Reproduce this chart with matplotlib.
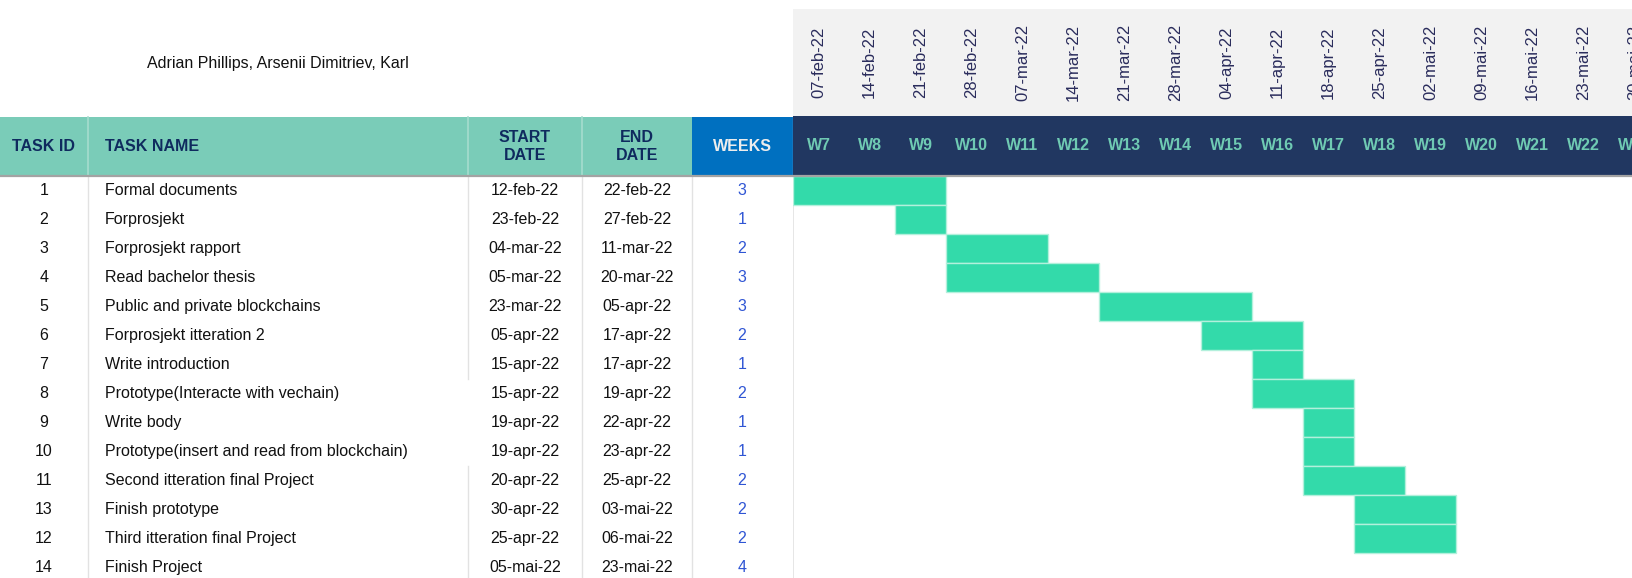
import matplotlib
matplotlib.use("Agg")
import matplotlib.pyplot as plt
from matplotlib.patches import Rectangle

plt.rcParams['font.family'] = ['Liberation Sans', 'DejaVu Sans']

# ---------------- data ----------------
author_line = "Adrian Phillips, Arsenii Dimitriev, Karl"
task_ids = [1, 2, 3, 4, 5, 6, 7, 8, 9, 10, 11, 13, 12, 14]
task_names = [
    "Formal documents",
    "Forprosjekt",
    "Forprosjekt rapport",
    "Read bachelor thesis",
    "Public and private blockchains",
    "Forprosjekt itteration 2",
    "Write introduction",
    "Prototype(Interacte with vechain)",
    "Write body",
    "Prototype(insert and read from blockchain)",
    "Second itteration final Project",
    "Finish prototype",
    "Third itteration final Project",
    "Finish Project",
]
start_dates = ["12-feb-22", "23-feb-22", "04-mar-22", "05-mar-22", "23-mar-22",
               "05-apr-22", "15-apr-22", "15-apr-22", "19-apr-22", "19-apr-22",
               "20-apr-22", "30-apr-22", "25-apr-22", "05-mai-22"]
end_dates = ["22-feb-22", "27-feb-22", "11-mar-22", "20-mar-22", "05-apr-22",
             "17-apr-22", "17-apr-22", "19-apr-22", "22-apr-22", "23-apr-22",
             "25-apr-22", "03-mai-22", "06-mai-22", "23-mai-22"]
weeks = [3, 1, 2, 3, 3, 2, 1, 2, 1, 1, 2, 2, 2, 4]
bar_start_week = [7, 9, 10, 10, 13, 15, 16, 16, 17, 17, 17, 18, 18, None]

week_numbers = [7, 8, 9, 10, 11, 12, 13, 14, 15, 16, 17, 18, 19, 20, 21, 22, 23]
week_dates = ["07-feb-22", "14-feb-22", "21-feb-22", "28-feb-22", "07-mar-22",
              "14-mar-22", "21-mar-22", "28-mar-22", "04-apr-22", "11-apr-22",
              "18-apr-22", "25-apr-22", "02-mai-22", "09-mai-22", "16-mai-22",
              "23-mai-22", "30-mai-22"]
header_labels = ["TASK ID", "TASK NAME", "START\nDATE", "END\nDATE", "WEEKS"]

# ---------------- layout ----------------
W, H = 1632, 578
ROW_PX = 29.0
ROW0_PX = 176.0          # pixel y of top of first body row
GANTT_X0 = 793.0         # pixel x where gantt starts
WEEK_PX = 51.0


def ry(pix):
    """pixel y -> row units"""
    return (pix - ROW0_PX) / ROW_PX


y_top = ry(0)
y_bot = ry(H)

# colours
TEAL = "#7ACCB8"
TEAL_SEP = "#A6DCCE"
BLUE = "#0070C0"
NAVY = "#213761"
BAR = "#33DAAA"
BAR_EDGE = "#B3F0DC"
GRID = "#E2E2E2"
HDR_TXT = "#0F2A5E"
WEEKNUM_TXT = "#2F55D4"
WLABEL = "#6FCAB3"
DATE_TXT = "#2A2C5C"
BODY_TXT = "#111111"

fig = plt.figure(figsize=(W / 100, H / 100), dpi=100)
fig.patch.set_facecolor("white")

# table axes (x in pixels, y in row units)
axT = fig.add_axes([0, 0, GANTT_X0 / W, 1])
axT.set_xlim(0, GANTT_X0)
axT.set_ylim(y_bot, y_top)
axT.axis("off")

# gantt axes (x in week numbers, y in row units)
axG = fig.add_axes([GANTT_X0 / W, 0, 1 - GANTT_X0 / W, 1])
axG.set_xlim(week_numbers[0], week_numbers[0] + (W - GANTT_X0) / WEEK_PX)
axG.set_ylim(y_bot, y_top)
axG.axis("off")

# ---- table header ----
col_edges = [0, 88, 468, 582, 692, 793]
hdr_top = ry(117)
axT.add_patch(Rectangle((0, hdr_top), 692, 0 - hdr_top, facecolor=TEAL,
                        edgecolor="none", zorder=1))
axT.add_patch(Rectangle((692, hdr_top), 793 - 692, 0 - hdr_top, facecolor=BLUE,
                        edgecolor="none", zorder=1))
for xe in col_edges[1:4]:
    axT.plot([xe, xe], [hdr_top, 0], color=TEAL_SEP, lw=1.2, zorder=2)
axT.plot([792.5, 792.5], [hdr_top, 0], color="#5B8FC8", lw=1.0, zorder=2)

hdr_y = ry(147)
axT.text(44, hdr_y, header_labels[0], ha="center", va="center", fontsize=11.5,
         fontweight="bold", color=HDR_TXT, zorder=3)
axT.text(105, hdr_y, header_labels[1], ha="left", va="center", fontsize=11.5,
         fontweight="bold", color=HDR_TXT, zorder=3)
axT.text(525, hdr_y, header_labels[2], ha="center", va="center", fontsize=11.5,
         fontweight="bold", color=HDR_TXT, linespacing=1.25, multialignment="center", zorder=3)
axT.text(637, hdr_y, header_labels[3], ha="center", va="center", fontsize=11.5,
         fontweight="bold", color=HDR_TXT, linespacing=1.25, multialignment="center", zorder=3)
axT.text(742, hdr_y, header_labels[4], ha="center", va="center", fontsize=11.5,
         fontweight="bold", color="#EDEDED", zorder=3)

axT.text(147, ry(63.5), author_line, ha="left", va="center", fontsize=11.5,
         color=BODY_TXT)

# ---- table body lines ----
for xe in [88, 582, 692]:
    axT.plot([xe, xe], [0, y_bot], color=GRID, lw=1.0, zorder=1)
axT.plot([468, 468], [0, 7], color=GRID, lw=1.0, zorder=1)
axT.plot([468, 468], [10, y_bot], color=GRID, lw=1.0, zorder=1)

# ---- table body text ----
for i, (tid, name, sd, ed, wk) in enumerate(zip(task_ids, task_names, start_dates,
                                                end_dates, weeks)):
    yc = i + 0.5
    axT.text(44, yc, str(tid), ha="center", va="center", fontsize=11.5, color=BODY_TXT)
    axT.text(105, yc, name, ha="left", va="center", fontsize=11.5, color=BODY_TXT)
    axT.text(525, yc, sd, ha="center", va="center", fontsize=11.5, color=BODY_TXT)
    axT.text(637, yc, ed, ha="center", va="center", fontsize=11.5, color=BODY_TXT)
    axT.text(742, yc, str(wk), ha="center", va="center", fontsize=11.5, color=WEEKNUM_TXT)

# ---- gantt header ----
axG.axhspan(ry(9.5), ry(116), color="#F2F2F2", lw=0, zorder=1)
axG.axhspan(ry(116), 0, color=NAVY, lw=0, zorder=1)
for wn, wd in zip(week_numbers, week_dates):
    axG.text(wn + 0.5, ry(62.5), wd, rotation=90, ha="center", va="center",
             fontsize=12, color=DATE_TXT, zorder=3)
    axG.text(wn + 0.5, ry(146), f"W{wn}", ha="center", va="center",
             fontsize=11.5, fontweight="bold", color=WLABEL, zorder=3)

# separator line under header across everything
axT.axhline(0, color="#A3A3A3", lw=1.6, zorder=4)
axG.axhline(0, color="#A3A3A3", lw=1.6, zorder=4)
axG.plot([week_numbers[0], week_numbers[0]], [0, y_bot], color=GRID, lw=1.2, zorder=1)

# ---- bars ----
for i, (s, wk) in enumerate(zip(bar_start_week, weeks)):
    if s is None:
        continue
    axG.barh(i + 0.5, wk, left=s, height=1.0, color=BAR, edgecolor=BAR_EDGE,
             linewidth=1.0, zorder=2)

fig.savefig("out.png", dpi=100)
